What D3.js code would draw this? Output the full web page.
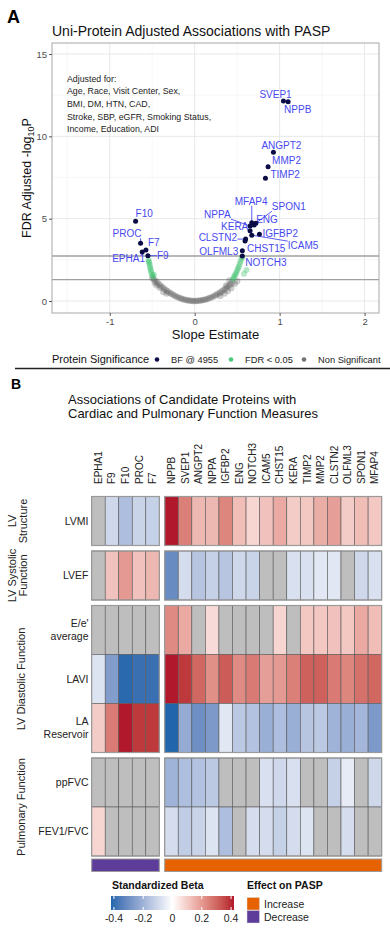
<!DOCTYPE html>
<html>
<head>
<meta charset="utf-8">
<script src="https://cdn.jsdelivr.net/npm/d3@7"></script>
<style>
body { margin: 0; background: #fff; }
text { font-family: "Liberation Sans", Arial, sans-serif; }
</style>
</head>
<body>
<div id="chart"></div>
<script>
// ---------- panel A data ----------
var xMajor = [-1, 0, 1, 2];
var xMinor = [-1.5, -0.5, 0.5, 1.5];
var yMajor = [0, 5, 10, 15];
var yMinor = [2.5, 7.5, 12.5];
var cutoffs = [2.73, 1.30];

var sigNames = ["SVEP1","NPPB","ANGPT2","MMP2","TIMP2","MFAP4","ENG","NPPA","SPON1","KERA","IGFBP2","ICAM5","CLSTN2","CHST15","OLFML3","NOTCH3","F10","PROC","F7","EPHA1","F9"];
var sigSlope = [1.045, 1.10, 0.927, 0.864, 0.833, 0.672, 0.70, 0.652, 0.72, 0.652, 0.762, 0.672, 0.60, 0.593, 0.561, 0.561, -0.696, -0.637, -0.574, -0.618, -0.551];
var sigLogP  = [12.14, 12.10, 9.03, 8.15, 7.45, 4.75, 4.62, 4.55, 4.72, 4.27, 4.05, 4.00, 3.76, 3.64, 3.05, 2.73, 4.84, 3.50, 3.10, 2.97, 2.75];

var greenSlope = [-0.49,-0.50,-0.51,-0.515,-0.52,-0.525,-0.53,-0.535,-0.54,-0.545,-0.48,0.45,0.46,0.47,0.48,0.49,0.50,0.51,0.52,0.53,0.54,0.55,0.56,0.61,0.58];
var greenLogP  = [1.45,1.58,1.70,1.82,1.95,2.05,2.18,2.30,2.40,2.50,1.60,1.32,1.42,1.52,1.62,1.72,1.85,1.98,2.10,2.25,2.40,2.55,2.65,1.88,1.65];

var greySlope = [-0.50,-0.48,-0.46,-0.44,-0.42,-0.40,-0.38,-0.36,-0.34,-0.32,-0.30,-0.28,-0.26,-0.24,-0.22,-0.20,-0.18,-0.16,-0.14,-0.12,-0.10,-0.08,-0.06,-0.04,-0.02,0.00,0.02,0.04,0.06,0.08,0.10,0.12,0.14,0.16,0.18,0.20,0.22,0.24,0.26,0.28,0.30,0.32,0.34,0.36,0.38,0.40,0.42,0.44,-0.45,-0.41,-0.37,-0.33,0.30,0.35,0.39,0.43,0.47,0.41,0.37,-0.47,0.50];
var greyLogP  = [1.40,1.30,1.22,1.12,1.02,0.93,0.84,0.75,0.67,0.59,0.52,0.45,0.39,0.33,0.28,0.23,0.19,0.15,0.11,0.08,0.06,0.04,0.02,0.01,0.00,0.00,0.00,0.01,0.02,0.04,0.06,0.08,0.11,0.15,0.19,0.23,0.28,0.33,0.39,0.45,0.52,0.59,0.67,0.75,0.84,0.93,1.02,1.12,0.95,0.80,0.55,0.45,0.30,0.45,0.60,0.78,1.05,1.25,0.95,1.10,1.20];

var adjustedFor = ["Adjusted for:", "Age, Race, Visit Center, Sex,", "BMI, DM, HTN, CAD,", "Stroke, SBP, eGFR, Smoking Status,", "Income, Education, ADI"];
var sigLegend = ["BF @ 4955", "FDR < 0.05", "Non Significant"];

// ---------- panel B data ----------
var proteinsDecrease = ["EPHA1","F9","F10","PROC","F7"];
var proteinsIncrease = ["NPPB","SVEP1","ANGPT2","NPPA","IGFBP2","ENG","NOTCH3","ICAM5","CHST15","KERA","TIMP2","MMP2","CLSTN2","OLFML3","SPON1","MFAP4"];
var measureGroups = ["LV Structure", "LV Systolic Function", "LV Diastolic Function", "Pulmonary Function"];
var measures = ["LVMI", "LVEF", "E/e' average", "LAVI", "LA Reservoir", "ppFVC", "FEV1/FVC"];
var measureGroupOf = [0, 1, 2, 2, 2, 3, 3];

// order: 5 decrease proteins then 16 increase proteins, null = not significant
var betaLVMI  = [null,-0.10,-0.17,-0.11,-0.12, 0.42,0.25,0.14,0.14,0.24,0.13,0.08,0.12,0.17,0.10,0.11,0.16,0.19,0.10,0.13,0.11];
var betaLVEF  = [null,0.12,0.20,0.12,0.14, -0.31,-0.09,-0.15,-0.12,-0.15,-0.10,-0.11,null,null,-0.08,-0.08,-0.06,-0.06,null,-0.10,-0.08];
var betaEe    = [null,null,null,null,null, 0.23,0.17,null,0.07,null,null,null,null,0.08,null,0.11,0.11,0.12,0.11,0.17,0.13];
var betaLAVI  = [-0.07,-0.26,-0.41,-0.39,-0.39, 0.42,0.38,0.30,0.22,0.32,0.23,0.26,0.19,0.20,0.25,0.31,0.31,0.26,0.24,0.28,0.30];
var betaLAR   = [0.10,0.26,0.42,0.38,0.38, -0.42,-0.22,-0.30,-0.27,-0.06,-0.14,-0.16,-0.21,-0.17,-0.21,-0.15,-0.14,-0.20,-0.21,-0.19,-0.27];
var betaPPFVC = [null,null,null,null,null, -0.20,-0.17,-0.16,-0.14,null,null,null,-0.08,-0.10,-0.08,null,null,-0.12,-0.05,null,-0.10];
var betaFEV   = [0.08,null,null,null,null, -0.09,-0.13,-0.11,-0.07,-0.17,null,-0.09,-0.09,-0.12,-0.09,-0.07,null,null,-0.09,null,null];
var betaRows = [betaLVMI, betaLVEF, betaEe, betaLAVI, betaLAR, betaPPFVC, betaFEV];

var betaTicks = [-0.4, -0.2, 0, 0.2, 0.4];
var effectLabels = ["Increase", "Decrease"];

// ---------- svg ----------
var width = 390, height = 930;
var font = "'Liberation Sans', Arial, sans-serif";

var svg = d3.select("#chart")
    .append("svg")
    .attr("width", width)
    .attr("height", height);

// =================== PANEL A ===================
var xA = d3.scaleLinear().domain([-1.68, 2.17]).range([52, 379]);
var yA = d3.scaleLinear().domain([-0.73, 15.67]).range([313, 43]);

svg.append("text")
    .attr("x", 7).attr("y", 23)
    .style("font-size", "18px").style("font-weight", "bold")
    .text("A");

svg.append("text")
    .attr("x", 52).attr("y", 35.5)
    .style("font-size", "14px").style("fill", "#111")
    .text("Uni-Protein Adjusted Associations with PASP");

var pa = svg.append("g");

// grid
pa.selectAll(".gridxm").data(xMinor).enter().append("line")
    .attr("x1", d => xA(d)).attr("x2", d => xA(d))
    .attr("y1", 43).attr("y2", 313)
    .style("stroke", "#f2f2f2").style("stroke-width", 0.6);
pa.selectAll(".gridym").data(yMinor).enter().append("line")
    .attr("x1", 52).attr("x2", 379)
    .attr("y1", d => yA(d)).attr("y2", d => yA(d))
    .style("stroke", "#f2f2f2").style("stroke-width", 0.6);
pa.selectAll(".gridx").data(xMajor).enter().append("line")
    .attr("x1", d => xA(d)).attr("x2", d => xA(d))
    .attr("y1", 43).attr("y2", 313)
    .style("stroke", "#e8e8e8").style("stroke-width", 1);
pa.selectAll(".gridy").data(yMajor).enter().append("line")
    .attr("x1", 52).attr("x2", 379)
    .attr("y1", d => yA(d)).attr("y2", d => yA(d))
    .style("stroke", "#e8e8e8").style("stroke-width", 1);

// cutoff lines
pa.selectAll(".cut").data(cutoffs).enter().append("line")
    .attr("x1", 52).attr("x2", 379)
    .attr("y1", d => yA(d)).attr("y2", d => yA(d))
    .style("stroke", "#a0a0a0").style("stroke-width", 1.4);

// adjusted for note
pa.selectAll(".adj").data(adjustedFor).enter().append("text")
    .attr("x", 67)
    .attr("y", (d, i) => 81.5 + i * 12.7)
    .style("font-size", "8.8px").style("fill", "#222")
    .text(d => d);

// grey points
pa.selectAll(".grey").data(greySlope).enter().append("circle")
    .attr("cx", d => xA(d))
    .attr("cy", (d, i) => yA(greyLogP[i]))
    .attr("r", 3.2)
    .style("fill", "#595959").style("opacity", 0.3);

// green points
pa.selectAll(".green").data(greenSlope).enter().append("circle")
    .attr("cx", d => xA(d))
    .attr("cy", (d, i) => yA(greenLogP[i]))
    .attr("r", 3)
    .style("fill", "#2dbd62").style("opacity", 0.35);

// labels (nudge in px from point: dx, dy, leader line)
var labelNudge = {
    SVEP1: [-24, -3, 0], NPPB: [-4, 11, 0], ANGPT2: [-12, -3, 0], MMP2: [4, -3, 0],
    TIMP2: [5, 0, 0], MFAP4: [-17, -18, 1], ENG: [2, -2, 0], NPPA: [-46, -8, 1],
    SPON1: [16, -13, 1], KERA: [-29, -1, 0], IGFBP2: [3, 3, 0], ICAM5: [36, 14, 1],
    CLSTN2: [-47, 2, 1], CHST15: [2, 11, 0], OLFML3: [-43, 4, 0], NOTCH3: [3, 10, 0],
    F10: [0, -4, 0], PROC: [-28, -6, 1], F7: [2, -4, 0], EPHA1: [-30, 10, 0], F9: [9, 3, 1]
};
var labelColor = "#4848f0";
var segLayer = pa.append("g");
sigNames.forEach(function (name, i) {
    var px = xA(sigSlope[i]), py = yA(sigLogP[i]);
    var nd = labelNudge[name];
    var t = pa.append("text")
        .attr("x", px + nd[0]).attr("y", py + nd[1])
        .style("font-size", "10px").style("fill", labelColor)
        .text(name);
    if (nd[2]) {
        var b = t.node().getBBox();
        var cx = Math.max(b.x, Math.min(px, b.x + b.width));
        var cy = Math.max(b.y + 1, Math.min(py, b.y + b.height - 1));
        segLayer.append("line")
            .attr("x1", px).attr("y1", py).attr("x2", cx).attr("y2", cy)
            .style("stroke", labelColor).style("stroke-width", 0.9);
    }
});

// significant points
pa.selectAll(".sig").data(sigSlope).enter().append("circle")
    .attr("cx", d => xA(d))
    .attr("cy", (d, i) => yA(sigLogP[i]))
    .attr("r", 2.5)
    .style("fill", "#0b0b45");

// panel border
pa.append("rect")
    .attr("x", 52).attr("y", 43).attr("width", 327).attr("height", 270)
    .style("fill", "none").style("stroke", "#a8a8a8").style("stroke-width", 1);

// axes
var yAxis = pa.append("g")
    .attr("transform", "translate(52,0)")
    .call(d3.axisLeft(yA).tickValues(yMajor).tickSize(3).tickPadding(2));
var xAxis = pa.append("g")
    .attr("transform", "translate(0,313)")
    .call(d3.axisBottom(xA).tickValues(xMajor).tickSize(3).tickPadding(2)
        .tickFormat(d3.format("d")));
[yAxis, xAxis].forEach(function (ax) {
    ax.select(".domain").remove();
    ax.selectAll("line").style("stroke", "#555");
    ax.selectAll("text").style("font-size", "9.5px").style("fill", "#4d4d4d")
        .style("font-family", font);
});
xAxis.selectAll("text").text(d => d < 0 ? "-" + Math.abs(d) : d);

// axis titles
var yt = svg.append("text")
    .attr("transform", "translate(31,178) rotate(-90)")
    .attr("text-anchor", "middle")
    .style("font-size", "12.5px").style("fill", "#111");
yt.append("tspan").text("FDR Adjusted -log");
yt.append("tspan").attr("dy", 3).style("font-size", "9px").text("10");
yt.append("tspan").attr("dy", -3).text("P");

svg.append("text")
    .attr("x", 215.5).attr("y", 338.5)
    .attr("text-anchor", "middle")
    .style("font-size", "13px").style("fill", "#111")
    .text("Slope Estimate");

// legend A
svg.append("text")
    .attr("x", 52).attr("y", 363)
    .style("font-size", "11px").style("fill", "#111")
    .text("Protein Significance");
var legColors = ["#0b0b45", "#2dbd62", "#595959"];
var legDotX = [157, 231, 304];
sigLegend.forEach(function (lab, i) {
    svg.append("circle")
        .attr("cx", legDotX[i]).attr("cy", 359.5).attr("r", 2.3)
        .style("fill", legColors[i]).style("opacity", i === 0 ? 1 : 0.85);
    svg.append("text")
        .attr("x", legDotX[i] + 14).attr("y", 363)
        .style("font-size", "9.3px").style("fill", "#222")
        .text(lab);
});

svg.append("line")
    .attr("x1", 15).attr("x2", 390).attr("y1", 368.5).attr("y2", 368.5)
    .style("stroke", "#222").style("stroke-width", 1.3);

// =================== PANEL B ===================
svg.append("text")
    .attr("x", 11).attr("y", 389)
    .style("font-size", "14px").style("font-weight", "bold")
    .text("B");

svg.selectAll(".titleB").data(["Associations of Candidate Proteins with", "Cardiac and Pulmonary Function Measures"])
    .enter().append("text")
    .attr("x", 68).attr("y", (d, i) => 404 + i * 14)
    .style("font-size", "13px").style("fill", "#111")
    .text(d => d);

var color = d3.scaleLinear()
    .domain([-0.42, 0, 0.42])
    .range(["#2166ac", "#ffffff", "#b2182b"])
    .interpolate(d3.interpolateLab)
    .clamp(true);
var naColor = "#bebebe";

var xDec = d3.scaleBand().domain(proteinsDecrease).range([91.7, 159.3]);
var xInc = d3.scaleBand().domain(proteinsIncrease).range([164.7, 381.7]);
var allProteins = proteinsDecrease.concat(proteinsIncrease);
function colX(i) { return i < 5 ? xDec(allProteins[i]) : xInc(allProteins[i]); }
var colW = xDec.bandwidth();

// row positions
var rowH = 49, groupGap = 5.5, topB = 496.5;
var rowY = [];
var yy = topB;
measures.forEach(function (m, r) {
    if (r > 0 && measureGroupOf[r] !== measureGroupOf[r - 1]) yy += groupGap;
    rowY.push(yy);
    yy += rowH;
});

var hb = svg.append("g");

// column labels (read bottom to top, bottoms aligned)
allProteins.forEach(function (p, i) {
    var cx = colX(i) + colW / 2;
    hb.append("text")
        .attr("transform", "translate(" + cx + ",484) rotate(-90)")
        .attr("text-anchor", "start")
        .attr("dy", "0.35em")
        .style("font-size", "10px").style("fill", "#222")
        .text(p);
});

// cells
betaRows.forEach(function (row, r) {
    row.forEach(function (v, i) {
        hb.append("rect")
            .attr("x", colX(i)).attr("y", rowY[r])
            .attr("width", colW).attr("height", rowH)
            .style("fill", v === null ? naColor : color(v))
            .style("stroke", "#5a5a5a").style("stroke-width", 0.6);
    });
});

// block outlines
measureGroups.forEach(function (g, gi) {
    var rows = measures.map((m, r) => r).filter(r => measureGroupOf[r] === gi);
    var y0 = rowY[rows[0]], y1 = rowY[rows[rows.length - 1]] + rowH;
    [[91.7, 159.3], [164.7, 381.7]].forEach(function (xr) {
        hb.append("rect")
            .attr("x", xr[0]).attr("y", y0)
            .attr("width", xr[1] - xr[0]).attr("height", y1 - y0)
            .style("fill", "none").style("stroke", "#9a9a9a").style("stroke-width", 1.2);
    });
    // group label
    var cy = (y0 + y1) / 2;
    var lines = {0: ["LV", "Structure"], 1: ["LV Systolic", "Function"], 2: ["LV Diastolic Function"], 3: ["Pulmonary Function"]}[gi];
    var lx = lines.length === 2 ? [12.5, 23.5] : [21];
    lines.forEach(function (ln, li) {
        hb.append("text")
            .attr("transform", "translate(" + lx[li] + "," + cy + ") rotate(-90)")
            .attr("text-anchor", "middle")
            .attr("dy", "0.35em")
            .style("font-size", "11px").style("fill", "#222")
            .text(ln);
    });
});

// row labels
measures.forEach(function (m, r) {
    var cy = rowY[r] + rowH / 2;
    var parts = m === "E/e' average" ? ["E/e'", "average"] : m === "LA Reservoir" ? ["LA", "Reservoir"] : [m];
    parts.forEach(function (p, k) {
        hb.append("text")
            .attr("x", 88.5)
            .attr("y", cy + (k - (parts.length - 1) / 2) * 13)
            .attr("dy", "0.35em")
            .attr("text-anchor", "end")
            .style("font-size", "10.5px").style("fill", "#222")
            .text(p);
    });
});

// effect annotation bar
var effColor = {Increase: "#e66100", Decrease: "#5e3c99"};
var barY = rowY[rowY.length - 1] + rowH + 3;
hb.append("rect")
    .attr("x", 91.7).attr("y", barY).attr("width", 159.3 - 91.7).attr("height", 12.5)
    .style("fill", effColor.Decrease).style("stroke", "#9a9a9a").style("stroke-width", 1);
hb.append("rect")
    .attr("x", 164.7).attr("y", barY).attr("width", 381.7 - 164.7).attr("height", 12.5)
    .style("fill", effColor.Increase).style("stroke", "#9a9a9a").style("stroke-width", 1);

// legend: standardized beta
svg.append("text")
    .attr("x", 112).attr("y", 889)
    .style("font-size", "10.5px").style("font-weight", "bold").style("fill", "#111")
    .text("Standardized Beta");

var xLeg = d3.scaleLinear().domain([-0.42, 0.42]).range([111, 234]);
var grad = svg.append("defs").append("linearGradient").attr("id", "betaGrad");
d3.range(0, 21).forEach(function (k) {
    var v = -0.42 + k * 0.042;
    grad.append("stop").attr("offset", (k / 20 * 100) + "%").attr("stop-color", color(v));
});
svg.append("rect")
    .attr("x", 111).attr("y", 896).attr("width", 123).attr("height", 14)
    .style("fill", "url(#betaGrad)");
betaTicks.forEach(function (t) {
    svg.append("line").attr("x1", xLeg(t)).attr("x2", xLeg(t)).attr("y1", 896).attr("y2", 899)
        .style("stroke", "#fff").style("stroke-width", 1);
    svg.append("line").attr("x1", xLeg(t)).attr("x2", xLeg(t)).attr("y1", 907).attr("y2", 910)
        .style("stroke", "#fff").style("stroke-width", 1);
    svg.append("text")
        .attr("x", xLeg(t)).attr("y", 921.5)
        .attr("text-anchor", "middle")
        .style("font-size", "10.5px").style("fill", "#222")
        .text(t === 0 ? "0" : (t < 0 ? "-" : "") + Math.abs(t).toFixed(1));
});

// legend: effect on PASP
svg.append("text")
    .attr("x", 247).attr("y", 889)
    .style("font-size", "10.5px").style("font-weight", "bold").style("fill", "#111")
    .text("Effect on PASP");
effectLabels.forEach(function (lab, i) {
    svg.append("rect")
        .attr("x", 247).attr("y", 897.5 + i * 13).attr("width", 12.5).attr("height", 12.5)
        .style("fill", effColor[lab]).style("stroke", "#ddd").style("stroke-width", 0.5);
    svg.append("text")
        .attr("x", 264).attr("y", 908 + i * 13)
        .style("font-size", "10.5px").style("fill", "#222")
        .text(lab);
});
</script>
</body>
</html>
